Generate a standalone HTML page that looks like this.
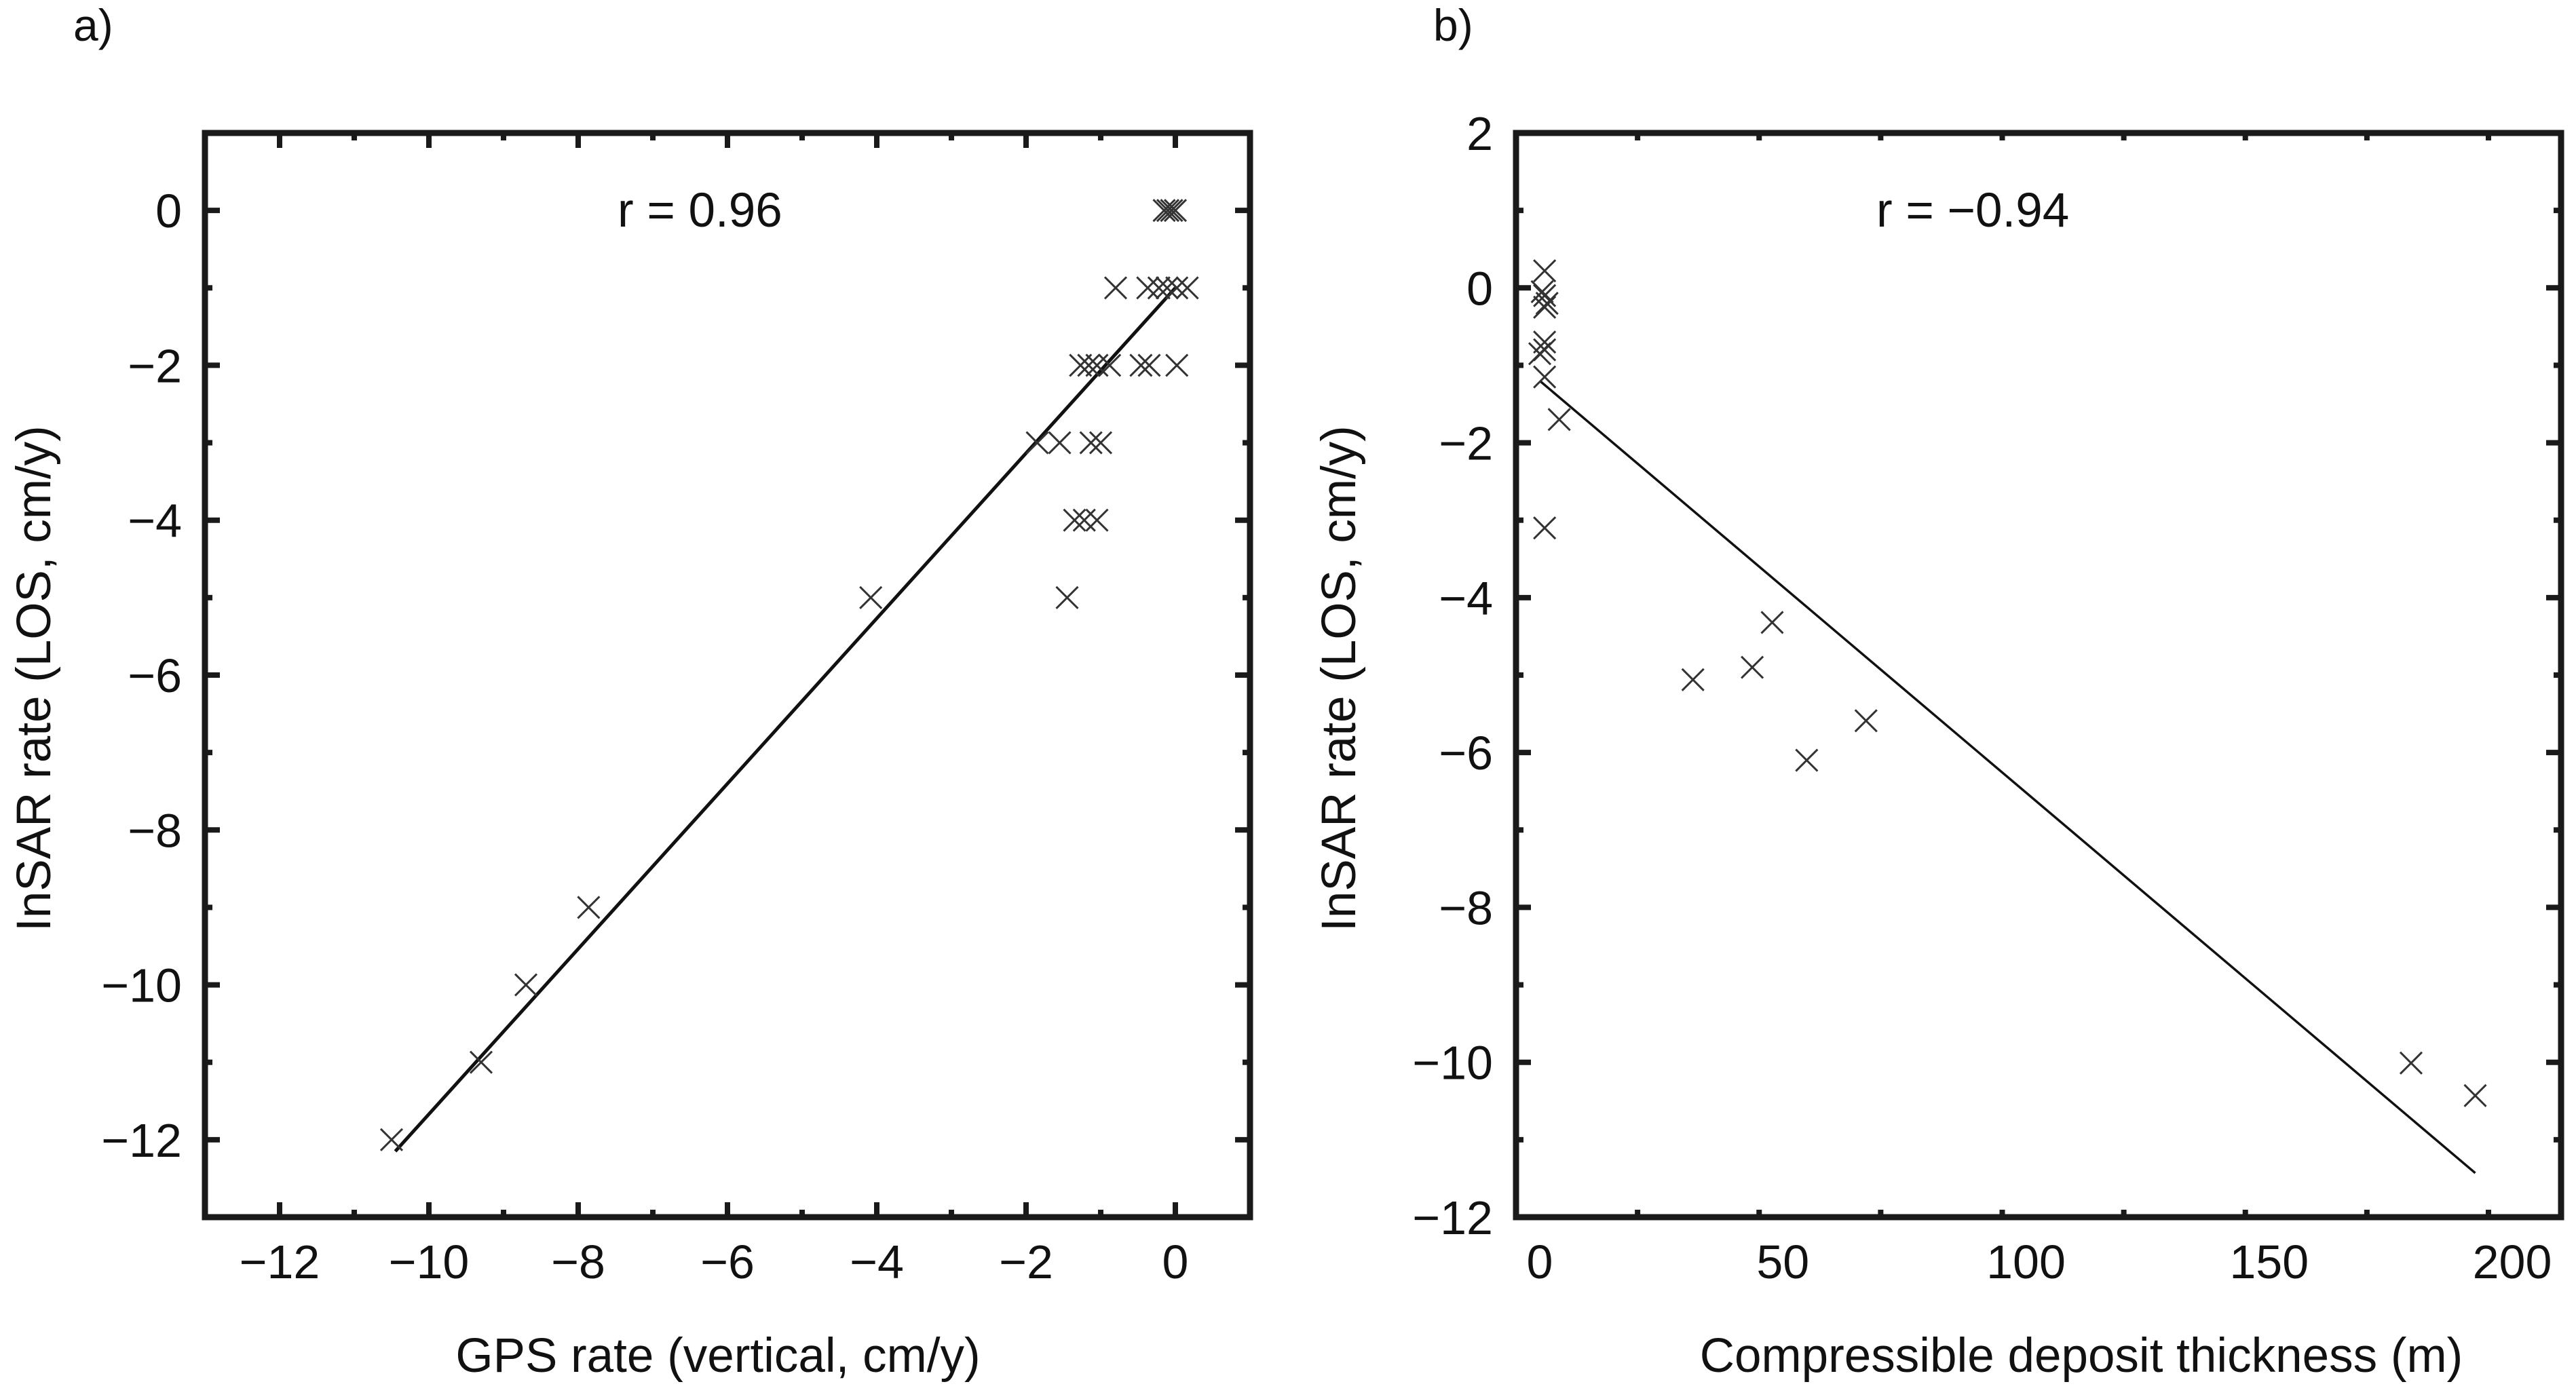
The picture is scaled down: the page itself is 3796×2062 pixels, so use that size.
<!DOCTYPE html>
<html><head><meta charset="utf-8"><style>
html,body{margin:0;padding:0;background:#fff;}
svg{display:block;font-family:"Liberation Sans",Arial,sans-serif;}
</style></head><body>
<svg id="fig" width="3796" height="2062" viewBox="0 0 3796 2062" xmlns="http://www.w3.org/2000/svg">
<text x="108" y="60" font-size="66" fill="#111">a)</text>
<text x="2112" y="60" font-size="66" fill="#111">b)</text>
<g id="pa"></g>
<g id="pb"></g>
</svg>
<script>
// Panel a data
const aGpsX = [-0.15,-0.1,-0.05,0, -0.8,-0.37,-0.22,-0.11,0.02,0.16, -1.27,-1.16,-1.05,-0.88,-0.46,-0.35,0.02, -1.85,-1.55,-1.13,-1.0, -1.35,-1.22,-1.05, -1.45,-4.08, -7.86,-8.7,-9.3,-10.5];
const aInsarY = [0,0,0,0, -1,-1,-1,-1,-1,-1, -2,-2,-2,-2,-2,-2,-2, -3,-3,-3,-3, -4,-4,-4, -5,-5, -9,-10,-11,-12];
const aFitX = [-10.45, 0];
const aFitY = [-12.15, -1.0];
const aXTicks = [-12,-10,-8,-6,-4,-2,0];
const aXTickLabels = ["\u221212","\u221210","\u22128","\u22126","\u22124","\u22122","0"];
const aYTicks = [0,-2,-4,-6,-8,-10,-12];
const aYTickLabels = ["0","\u22122","\u22124","\u22126","\u22128","\u221210","\u221212"];
// Panel b data
const bThickX = [1,0.5,1,1.5,1,1,1,0,1,4,1, 31.5,43.7,47.8,54.9,67.1,179.2,192.4];
const bInsarY = [0.22,-0.05,-0.1,-0.2,-0.25,-0.7,-0.8,-0.85,-1.15,-1.7,-3.1, -5.06,-4.9,-4.32,-6.1,-5.59,-10.01,-10.43];
const bFitX = [0, 192.4];
const bFitY = [-1.2, -11.43];
const bXTicks = [0,50,100,150,200];
const bXTickLabels = ["0","50","100","150","200"];
const bYTicks = [2,0,-2,-4,-6,-8,-10,-12];
const bYTickLabels = ["2","0","\u22122","\u22124","\u22126","\u22128","\u221210","\u221212"];

const NS="http://www.w3.org/2000/svg";
function mk(parent, tag, attrs){const e=document.createElementNS(NS,tag);for(const k in attrs)e.setAttribute(k,attrs[k]);parent.appendChild(e);return e;}

function panel(g, cfg){
  const sx=v=>cfg.L+(v-cfg.x0)/(cfg.x1-cfg.x0)*(cfg.R-cfg.L);
  const sy=v=>cfg.B-(v-cfg.y0)/(cfg.y1-cfg.y0)*(cfg.B-cfg.T);
  for(let v=cfg.x0;v<=cfg.x1+1e-9;v+=cfg.xMinor){
    const major=cfg.xt.some(t=>Math.abs(t-v)<1e-9);const len=major?22:11;const x=sx(v);
    const t1=mk(g,'line',{x1:x,x2:x,y1:cfg.B,y2:cfg.B-len,stroke:'#1a1a1a','stroke-width':8});
    
    const t2=mk(g,'line',{x1:x,x2:x,y1:cfg.T,y2:cfg.T+len,stroke:'#1a1a1a','stroke-width':8});
    
  }
  for(let v=cfg.y0;v<=cfg.y1+1e-9;v+=cfg.yMinor){
    const major=cfg.yt.some(t=>Math.abs(t-v)<1e-9);const len=major?22:11;const y=sy(v);
    const t1=mk(g,'line',{x1:cfg.L,x2:cfg.L+len,y1:y,y2:y,stroke:'#1a1a1a','stroke-width':8});
    
    const t2=mk(g,'line',{x1:cfg.R,x2:cfg.R-len,y1:y,y2:y,stroke:'#1a1a1a','stroke-width':8});
    
  }
  const fr=mk(g,'rect',{x:cfg.L,y:cfg.T,width:cfg.R-cfg.L,height:cfg.B-cfg.T,fill:'none',stroke:'#1a1a1a','stroke-width':9});
  
  cfg.xt.forEach((t,i)=>{
    const tx=mk(g,'text',{x:sx(t),y:1884,'font-size':70,'text-anchor':'middle',fill:'#111'});
    tx.textContent=cfg.xl[i];
    
  });
  cfg.yt.forEach((t,i)=>{
    const tx=mk(g,'text',{x:cfg.L-34,y:sy(t)+25,'font-size':70,'text-anchor':'end',fill:'#111'});
    tx.textContent=cfg.yl[i];
    
  });
  const fl=mk(g,'line',{x1:sx(cfg.fx[0]),y1:sy(cfg.fy[0]),x2:sx(cfg.fx[1]),y2:sy(cfg.fy[1]),stroke:'#111','stroke-width':cfg.lw});
  
  cfg.px.forEach((v,i)=>{
    const x=sx(v),y=sy(cfg.py[i]),s=16;
    const p=mk(g,'path',{d:`M${x-s},${y-s}L${x+s},${y+s}M${x-s},${y+s}L${x+s},${y-s}`,stroke:'#333','stroke-width':3,fill:'none'});
    
  });
  const r=mk(g,'text',{x:cfg.rx,y:334,'font-size':71,fill:'#111'});r.textContent=cfg.rt;
  
  const xt=mk(g,'text',{x:cfg.xtx,y:2022,'font-size':71,'text-anchor':'middle',fill:'#111'});xt.textContent=cfg.xtitle;
  
  const yt=mk(g,'text',{x:0,y:0,'font-size':71,'text-anchor':'middle',fill:'#111',transform:`translate(${cfg.ytx},1000) rotate(-90)`});yt.textContent=cfg.ytitle;
  
}
panel(document.getElementById('pa'),{L:302,R:1842,T:196,B:1794,x0:-13,x1:1,y0:-13,y1:1,xMinor:1,yMinor:1,
  xt:aXTicks,xl:aXTickLabels,yt:aYTicks,yl:aYTickLabels,fx:aFitX,fy:aFitY,px:aGpsX,py:aInsarY,lw:5,
  rx:910,rt:"r = 0.96",xtx:1058,xtitle:"GPS rate (vertical, cm/y)",ytx:74,ytitle:"InSAR rate (LOS, cm/y)"});
panel(document.getElementById('pb'),{L:2234,R:3774,T:196,B:1794,x0:(2234-2269)/7.165,x1:(3774-2269)/7.165,y0:-12,y1:2,xMinor:25,yMinor:1,
  xt:bXTicks,xl:bXTickLabels,yt:bYTicks,yl:bYTickLabels,fx:bFitX,fy:bFitY,px:bThickX,py:bInsarY,lw:3.5,
  rx:2765,rt:"r = \u22120.94",xtx:3067,xtitle:"Compressible deposit thickness (m)",ytx:1997,ytitle:"InSAR rate (LOS, cm/y)"});
</script>
</body></html>
